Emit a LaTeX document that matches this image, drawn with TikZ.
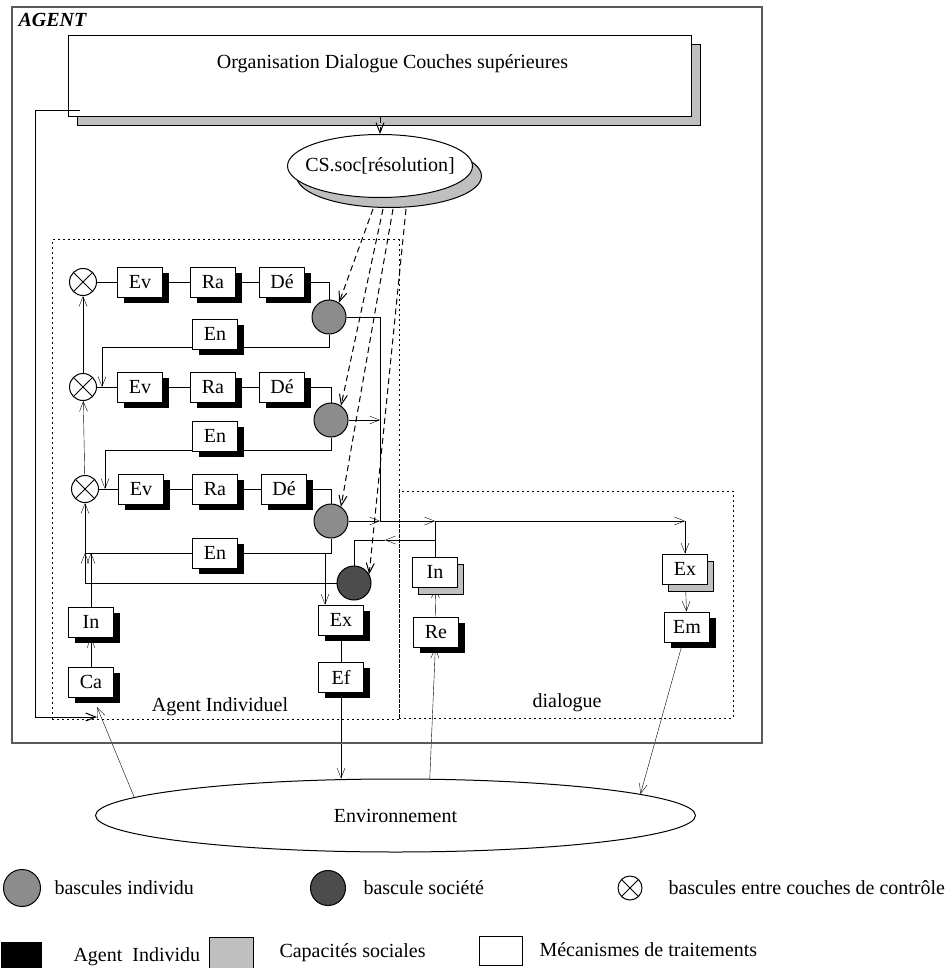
\documentclass[tikz,border=0pt]{standalone}
\usepackage{fontspec}
\setmainfont{Liberation Serif}
\usetikzlibrary{arrows.meta, positioning, calc, shapes.geometric, shadows, backgrounds}
\tikzset{
  cell/.style={draw, fill=white, minimum width=45pt, minimum height=30pt, inner sep=0pt},
  box/.style={cell, drop shadow={shadow xshift=6pt, shadow yshift=-6pt, fill=black, opacity=1}},
  sbox/.style={cell, drop shadow={shadow xshift=6pt, shadow yshift=-7pt, fill=black!25, draw=black, opacity=1}},
  bsc/.style={draw, circle, fill=black!45, minimum size=34pt, inner sep=0pt},
  soc/.style={draw, circle, fill=black!70, minimum size=34pt, inner sep=0pt},
  xsw/.style={draw, circle, minimum size=27pt, inner sep=0pt, path picture={
      \draw (path picture bounding box.north west) -- (path picture bounding box.south east)
            (path picture bounding box.south west) -- (path picture bounding box.north east);}},
  zone/.style={draw, dash pattern=on 2pt off 3pt, inner sep=0pt},
  txt/.style={anchor=west, inner sep=0pt},
  arr/.style={-{Straight Barb[length=10pt, width=8pt]}},
  darr/.style={arr, dash pattern=on 6pt off 4pt},
}

\begin{document}
\begin{tikzpicture}[x=1pt, y=-1pt, font=\fontsize{20}{24}\selectfont, line width=1pt]
    \useasboundingbox (0,0) rectangle (951,968);
    % cadres
    \node[draw=black!65, line width=1.2pt, inner sep=0pt, minimum width=750pt, minimum height=736pt] (agent) at (387,375) {};
    \node[txt] (agentLbl) at (18,20) {\textbf{\textit{AGENT}}};
    \node[zone, minimum width=347pt, minimum height=479pt] (ai) at (225.5,479.5) {};
    \node[zone, minimum width=334pt, minimum height=227pt] (dlg) at (566,604.5) {};
    \node (aiLbl) at (220,707) {Agent Individuel};
    \node (dlgLbl) at (567,703) {dialogue};

    % couches superieures
    \node[draw, fill=white, minimum width=623pt, inner sep=0pt, text height=33pt, text depth=48pt, anchor=north,
      drop shadow={shadow xshift=9pt, shadow yshift=-9pt, fill=black!25, draw=black, opacity=1}] (org) at (379.5,35)
      {\hspace*{26pt}Organisation Dialogue Couches supérieures};
    \node[draw, ellipse, fill=white, minimum width=185pt, minimum height=63pt, inner xsep=-20pt, inner ysep=0pt,
      drop shadow={shadow xshift=9pt, shadow yshift=-10pt, fill=black!25, draw=black, opacity=1}] (cs) at (380,166)
      {CS.soc[résolution]};

    % couches de controle
    \node[xsw] (x1) at (83,282) {};
    \node[box] (ev1) at (140,282) {Ev};
    \node[box] (ra1) at (213,282) {Ra};
    \node[box] (de1) at (282,282) {Dé};
    \node[bsc] (c1) at (329,317) {};
    \node[box] (en1) at (215,334) {En};

    \node[xsw] (x2) at (83,387) {};
    \node[box] (ev2) at (140,387) {Ev};
    \node[box] (ra2) at (213,387) {Ra};
    \node[box] (de2) at (282,387) {Dé};
    \node[bsc] (c2) at (331,420) {};
    \node[box] (en2) at (215,436) {En};

    \node[xsw] (x3) at (85,489) {};
    \node[box] (ev3) at (141,489) {Ev};
    \node[box] (ra3) at (215,489) {Ra};
    \node[box] (de3) at (284,489) {Dé};
    \node[bsc] (c3) at (331,521) {};
    \node[box] (en3) at (215,553) {En};

    \node[soc] (dk) at (354,583) {};
    \node[box] (inl) at (91,622) {In};
    \node[box] (ca) at (91,682) {Ca};
    \node[box] (exl) at (341,620) {Ex};
    \node[box] (efl) at (341,677) {Ef};

    % dialogue
    \node[sbox] (ind) at (435,572) {In};
    \node[box] (re) at (436,632) {Re};
    \node[sbox] (exd) at (685,569) {Ex};
    \node[box] (em) at (687,627) {Em};

    \node[draw, ellipse, minimum width=600pt, minimum height=73pt, inner sep=0pt] (env) at (395.5,815.5) {Environnement};

    \coordinate (bus) at (380,317);
    \coordinate (fb1) at (102,347);
    \coordinate (fb2) at (105,450);
    \coordinate (j3) at (85,553);
    \coordinate (j4) at (325,553);
    \coordinate (fbk) at (385,540);
    \coordinate (orgOut) at (80,111);
    \coordinate (lp) at (35,717);
    \coordinate (caIn) at (97,717);
    \coordinate (caLow) at (97,707);

    \begin{scope}[on background layer]
      \draw (x1) -- (ev1) -- (ra1) -- (de1) -| (c1);
      \draw (x2) -- (ev2) -- (ra2) -- (de2) -| (c2);
      \draw (x3) -- (ev3) -- (ra3) -- (de3) -| (c3);
      \draw[arr] (c1.south) |- (fb1) -- (fb1 |- x2);
      \draw[arr] (c2.south) |- (fb2) -- (fb2 |- x3);
      \draw (c3.south) |- (j3);
      \draw[arr] (x2) -- (x1);
      \draw[arr] (x3) -- (x2);
      \draw[arr] (dk) -| (j3);
      \draw[arr] (j3) -- (x3);
      \draw[arr] (inl) -- (inl |- j3);
      \draw[arr] (ca) -- (inl);
      \draw[arr] (j4) -- (j4 |- exl.north);
      \draw (exl) -- (efl);
      \draw[arr] (efl) -- (efl |- env.north);
      \draw (c1) -- (bus) -- (bus |- c3);
      \draw[arr] (c2) -- (c2 -| bus);
      \draw[arr] (c3) -- (c3 -| bus);
      \draw[arr] (c3 -| bus) -- (c3 -| ind);
      \draw[arr] (c3 -| ind) -- (c3 -| exd);
      \draw[arr] (c3 -| exd) -- (exd);
      \draw (ind) -- (c3 -| ind);
      \draw[arr] (ind |- fbk) -- (fbk);
      \draw (fbk) -| (dk);
      \draw[arr] (exd) -- (em);
      \draw[arr] (re) -- (ind);
      \draw[arr] (env.47) -- (re);
      \draw[arr] (em) -- (env.5);
      \draw[arr] (env.176.5) -- (caLow);
    \end{scope}

    \draw[arr] (orgOut) -| (lp) -- (caIn);
    \draw[darr] (org.south -| cs) -- (cs);
    \draw[darr] ([xshift=-7pt, yshift=-11pt]cs.south) -- (c1.55);
    \draw[darr] ([xshift=3pt, yshift=-11pt]cs.south) -- (c2.55);
    \draw[darr] ([xshift=13pt, yshift=-11pt]cs.south) -- (c3.55);
    \draw[darr] ([xshift=26pt, yshift=-11pt]cs.south) -- (dk.30);

    % legende
    \node[bsc, minimum size=37pt] (lgBsc) at (22,888) {};
    \node[txt] (lgBscTxt) at (54,888) {bascules individu};
    \node[soc, minimum size=35pt] (lgSoc) at (328,888) {};
    \node[txt] (lgSocTxt) at (363,888) {bascule société};
    \node[xsw, minimum size=24pt] (lgXsw) at (630,888) {};
    \node[txt] (lgXswTxt) at (668,888) {bascules entre couches de contrôle};
    \node[fill=black, minimum width=41pt, minimum height=40pt, inner sep=0pt, anchor=north west] (lgAgt) at (0,941) {};
    \node[txt] (lgAgtTxt) at (73,957) {Agent\ \ Individu};
    \node[draw, fill=black!25, minimum width=44pt, minimum height=34pt, inner sep=0pt, anchor=north west] (lgCap) at (209,937) {};
    \node[txt] (lgCapTxt) at (279,953) {Capacités sociales};
    \node[draw, fill=white, minimum width=43pt, minimum height=29pt, inner sep=0pt, anchor=north west] (lgMec) at (479,936) {};
    \node[txt] (lgMecTxt) at (539,950) {Mécanismes de traitements};
\end{tikzpicture}
\end{document}
